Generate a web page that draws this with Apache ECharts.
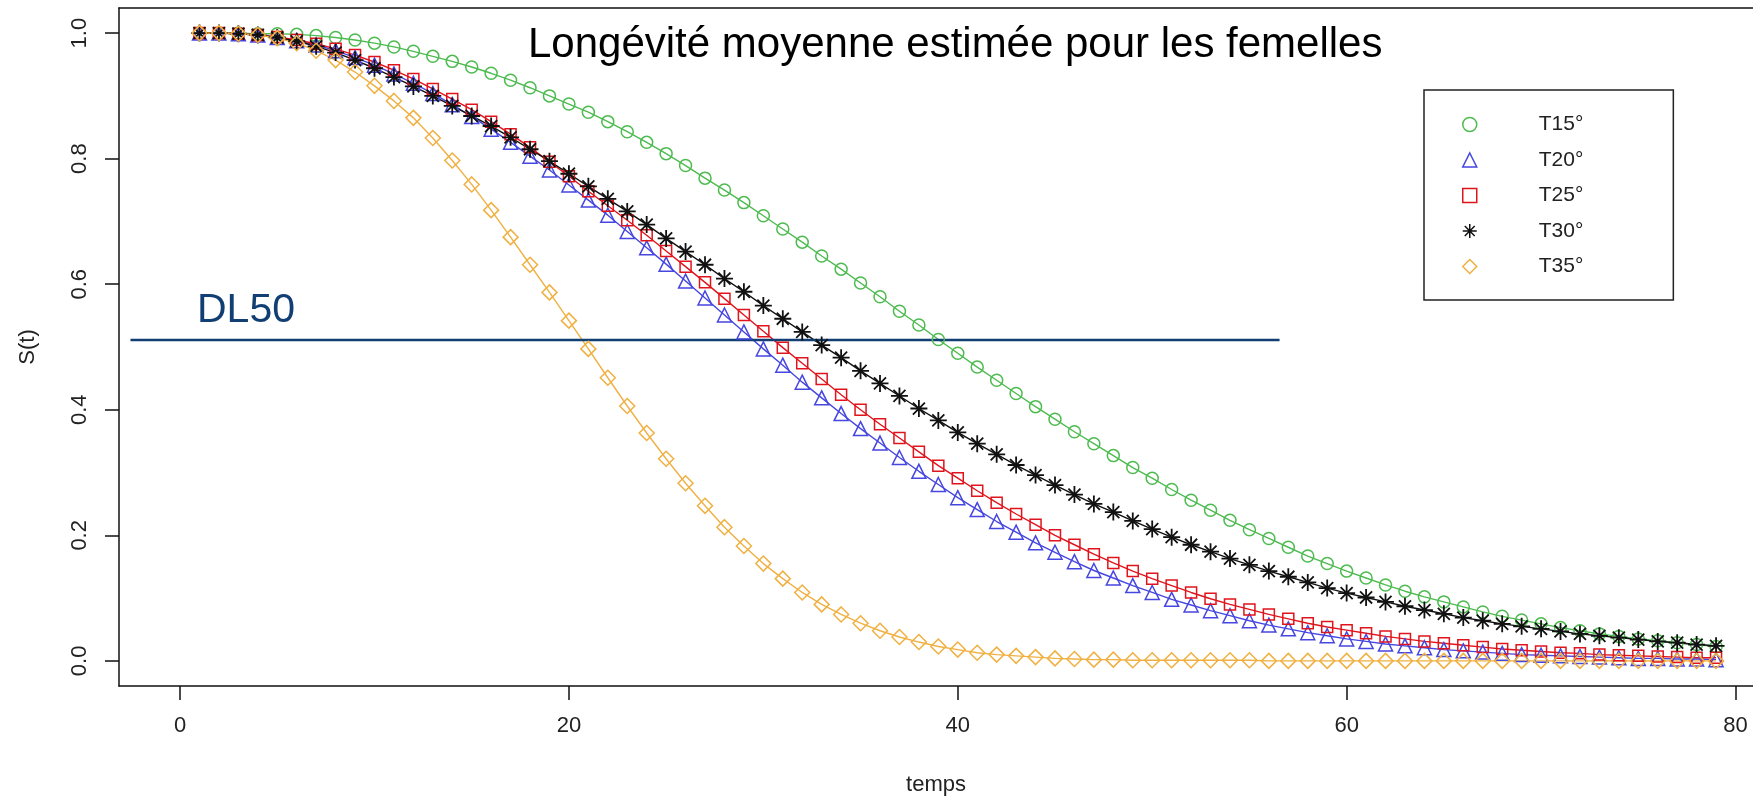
<!DOCTYPE html>
<html>
<head>
<meta charset="utf-8">
<title>Longévité moyenne estimée pour les femelles</title>
<script src="https://cdn.jsdelivr.net/npm/echarts@6/dist/echarts.min.js"></script>
<style>
  html, body { margin: 0; padding: 0; background: #fff; }
  #survieChart { width: 1753px; height: 801px; }
</style>
</head>
<body>
<div id="survieChart"></div>
<script>
// temps (jours)
const temps = [
  1, 2, 3, 4, 5, 6, 7, 8, 9, 10, 11, 12, 13, 14, 15, 16, 17, 18, 19, 20,
  21, 22, 23, 24, 25, 26, 27, 28, 29, 30, 31, 32, 33, 34, 35, 36, 37, 38, 39, 40,
  41, 42, 43, 44, 45, 46, 47, 48, 49, 50, 51, 52, 53, 54, 55, 56, 57, 58, 59, 60,
  61, 62, 63, 64, 65, 66, 67, 68, 69, 70, 71, 72, 73, 74, 75, 76, 77, 78, 79,
];

// S(t), une liste par température
const survieT15 = [
  1.000, 1.000, 1.000, 0.999, 0.999, 0.998, 0.996, 0.993, 0.989, 0.984,
  0.978, 0.971, 0.963, 0.955, 0.946, 0.936, 0.925, 0.913, 0.900, 0.887,
  0.874, 0.859, 0.843, 0.826, 0.808, 0.789, 0.769, 0.750, 0.730, 0.709,
  0.688, 0.667, 0.645, 0.624, 0.602, 0.580, 0.557, 0.535, 0.512, 0.490,
  0.468, 0.447, 0.426, 0.405, 0.385, 0.365, 0.346, 0.327, 0.308, 0.291,
  0.273, 0.256, 0.240, 0.224, 0.209, 0.195, 0.181, 0.167, 0.155, 0.143,
  0.132, 0.121, 0.111, 0.102, 0.094, 0.086, 0.078, 0.071, 0.065, 0.059,
  0.053, 0.048, 0.043, 0.039, 0.035, 0.032, 0.029, 0.026, 0.023,
];
const survieT20 = [
  1.000, 1.000, 0.999, 0.997, 0.993, 0.988, 0.981, 0.972, 0.961, 0.949,
  0.935, 0.920, 0.904, 0.886, 0.867, 0.847, 0.826, 0.804, 0.782, 0.758,
  0.734, 0.710, 0.684, 0.658, 0.632, 0.605, 0.578, 0.551, 0.524, 0.497,
  0.471, 0.444, 0.419, 0.394, 0.370, 0.347, 0.324, 0.302, 0.281, 0.260,
  0.241, 0.222, 0.205, 0.188, 0.173, 0.158, 0.144, 0.132, 0.120, 0.109,
  0.098, 0.089, 0.080, 0.072, 0.064, 0.057, 0.051, 0.045, 0.040, 0.035,
  0.031, 0.027, 0.024, 0.021, 0.018, 0.016, 0.014, 0.012, 0.010, 0.009,
  0.008, 0.007, 0.006, 0.005, 0.004, 0.004, 0.003, 0.003, 0.002,
];
const survieT25 = [
  1.000, 1.000, 0.999, 0.997, 0.994, 0.989, 0.983, 0.975, 0.965, 0.954,
  0.941, 0.927, 0.911, 0.895, 0.878, 0.859, 0.839, 0.818, 0.795, 0.772,
  0.748, 0.725, 0.702, 0.678, 0.653, 0.628, 0.603, 0.577, 0.551, 0.525,
  0.499, 0.474, 0.449, 0.424, 0.400, 0.377, 0.355, 0.333, 0.311, 0.291,
  0.271, 0.252, 0.234, 0.217, 0.200, 0.185, 0.170, 0.156, 0.143, 0.131,
  0.120, 0.109, 0.099, 0.090, 0.082, 0.074, 0.067, 0.060, 0.054, 0.049,
  0.044, 0.039, 0.035, 0.031, 0.028, 0.025, 0.022, 0.019, 0.017, 0.015,
  0.013, 0.012, 0.010, 0.009, 0.008, 0.007, 0.006, 0.005, 0.005,
];
const survieT30 = [
  1.000, 1.000, 0.999, 0.997, 0.993, 0.987, 0.979, 0.969, 0.957, 0.944,
  0.930, 0.915, 0.900, 0.884, 0.868, 0.852, 0.834, 0.815, 0.796, 0.776,
  0.756, 0.736, 0.716, 0.695, 0.673, 0.652, 0.631, 0.609, 0.588, 0.566,
  0.545, 0.524, 0.503, 0.483, 0.462, 0.442, 0.422, 0.402, 0.383, 0.364,
  0.346, 0.329, 0.312, 0.296, 0.280, 0.265, 0.250, 0.237, 0.223, 0.210,
  0.197, 0.185, 0.174, 0.163, 0.153, 0.143, 0.134, 0.125, 0.116, 0.108,
  0.101, 0.094, 0.087, 0.081, 0.075, 0.069, 0.064, 0.059, 0.055, 0.051,
  0.047, 0.043, 0.040, 0.037, 0.034, 0.031, 0.029, 0.026, 0.024,
];
const survieT35 = [
  1.000, 1.000, 0.999, 0.997, 0.992, 0.984, 0.972, 0.957, 0.938, 0.916,
  0.892, 0.865, 0.833, 0.797, 0.759, 0.718, 0.675, 0.631, 0.587, 0.542,
  0.497, 0.451, 0.406, 0.363, 0.322, 0.283, 0.247, 0.213, 0.183, 0.155,
  0.131, 0.109, 0.090, 0.074, 0.060, 0.048, 0.038, 0.030, 0.023, 0.018,
  0.013, 0.010, 0.008, 0.006, 0.004, 0.003, 0.002, 0.002, 0.001, 0.001,
  0.001, 0.001, 0.001, 0.001, 0.001, 0.000, 0.000, 0.000, 0.000, 0.000,
  0.000, 0.000, 0.000, 0.000, 0.000, 0.000, 0.000, 0.000, 0.000, 0.000,
  0.000, 0.000, 0.000, 0.000, 0.000, 0.000, 0.000, 0.000, 0.000,
];

const legendNames = ["T15°", "T20°", "T25°", "T30°", "T35°"];
const xTicks = [0, 20, 40, 60, 80];
const yTicks = [0, 0.2, 0.4, 0.6, 0.8, 1.0];
// seuil DL50 et étendue du trait
const dl50Level = 0.511;
const dl50Range = [-2.55, 56.55];

(() => {
  configSurvieChart();
})();

function configSurvieChart() {
  const chart = echarts.init(document.getElementById("survieChart"));

  const font = "'Liberation Sans', Arial, sans-serif";
  const asterisk =
    "path://M10 0L10 20M0 10L20 10M2.93 2.93L17.07 17.07M17.07 2.93L2.93 17.07";
  const styles = [
    { color: "#4DBB4F", symbol: "circle", size: 12, width: 1.5 },
    { color: "#4646E0", symbol: "triangle", size: 14, width: 1.5 },
    { color: "#E0141C", symbol: "rect", size: 11, width: 1.5 },
    { color: "#111111", symbol: asterisk, size: 17, width: 1.8 },
    { color: "#F0B042", symbol: "diamond", size: 15, width: 1.5 },
  ];
  const valueLists = [survieT15, survieT20, survieT25, survieT30, survieT35];

  const courbes = valueLists.map((list, i) => ({
    name: legendNames[i],
    type: "line",
    data: temps.map((t, j) => [t, list[j]]),
    symbol: styles[i].symbol,
    symbolSize: styles[i].size,
    showSymbol: true,
    color: styles[i].color,
    lineStyle: { color: styles[i].color, width: 1.4 },
    itemStyle: {
      color: "rgba(0,0,0,0)",
      borderColor: styles[i].color,
      borderWidth: styles[i].width,
    },
    emphasis: { disabled: true },
  }));

  const option = {
    backgroundColor: "#fff",
    animation: false,
    title: {
      text: "Longévité moyenne estimée pour les femelles",
      left: 528,
      top: 24,
      padding: 0,
      textStyle: {
        fontFamily: font,
        fontSize: 42,
        fontWeight: "normal",
        color: "#000",
      },
    },
    legend: {
      left: 1424,
      top: 90,
      orient: "vertical",
      padding: [24, 90, 23, 38],
      borderColor: "#222",
      borderWidth: 1.5,
      borderRadius: 0,
      itemWidth: 14,
      itemHeight: 14,
      itemGap: 14.5,
      selectedMode: false,
      textStyle: {
        fontFamily: font,
        fontSize: 21,
        lineHeight: 20,
        color: "#222",
        padding: [0, 0, 0, 57],
      },
      data: legendNames.map((name, i) => ({
        name: name,
        icon: styles[i].symbol,
        itemStyle: {
          color: "rgba(0,0,0,0)",
          borderColor: styles[i].color,
          borderWidth: 1.5,
        },
      })),
    },
    graphic: [
      {
        type: "text",
        left: 197,
        top: 290,
        style: {
          text: "DL50",
          fontFamily: font,
          fontSize: 41,
          fill: "#123F73",
        },
      },
    ],
    grid: {
      left: 119,
      right: 0,
      top: 8,
      bottom: 109,
    },
    xAxis: [
      {
        type: "value",
        min: -3.14,
        max: 80.9,
        name: "temps",
        nameLocation: "middle",
        nameGap: 88,
        nameTextStyle: { fontFamily: font, fontSize: 22, color: "#222" },
        axisLine: {
          show: true,
          onZero: false,
          lineStyle: { color: "#111", width: 1.5 },
        },
        axisTick: {
          show: true,
          length: 14,
          customValues: xTicks,
          lineStyle: { color: "#111", width: 1.5 },
        },
        axisLabel: {
          customValues: xTicks,
          margin: 29,
          fontFamily: font,
          fontSize: 22,
          color: "#222",
        },
        splitLine: { show: false },
      },
      {
        type: "value",
        position: "top",
        min: -3.14,
        max: 80.9,
        axisLine: {
          show: true,
          onZero: false,
          lineStyle: { color: "#111", width: 1.5 },
        },
        axisTick: { show: false },
        axisLabel: { show: false },
        splitLine: { show: false },
      },
    ],
    yAxis: {
      type: "value",
      min: -0.04,
      max: 1.04,
      name: "S(t)",
      nameLocation: "middle",
      nameGap: 80,
      nameRotate: 90,
      nameTextStyle: { fontFamily: font, fontSize: 22, color: "#222" },
      axisLine: {
        show: true,
        onZero: false,
        lineStyle: { color: "#111", width: 1.5 },
      },
      axisTick: {
        show: true,
        length: 14,
        customValues: yTicks,
        lineStyle: { color: "#111", width: 1.5 },
      },
      axisLabel: {
        customValues: yTicks,
        rotate: 90,
        margin: 28,
        fontFamily: font,
        fontSize: 22,
        color: "#222",
        formatter: (v) => v.toFixed(1),
      },
      splitLine: { show: false },
    },
    series: [
      ...courbes,
      {
        name: "DL50",
        type: "line",
        data: dl50Range.map((x) => [x, dl50Level]),
        symbol: "none",
        silent: true,
        lineStyle: { color: "#123F73", width: 2.5 },
      },
    ],
  };
  chart.setOption(option);
}
</script>
</body>
</html>
